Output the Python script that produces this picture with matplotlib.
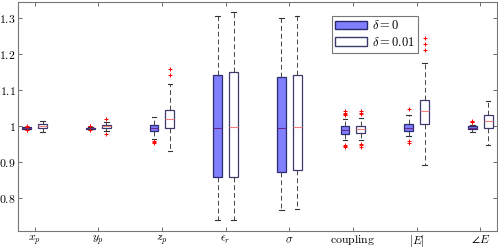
import matplotlib
matplotlib.use("Agg")
import matplotlib.pyplot as plt
import numpy as np
from matplotlib.patches import Patch

plt.rcParams["mathtext.fontset"] = "cm"
plt.rcParams["font.family"] = "serif"
plt.rcParams["font.serif"] = ["DejaVu Serif"]

labels = [r"$x_p$", r"$y_p$", r"$z_p$", r"$\epsilon_r$", r"$\sigma$",
          r"$\mathrm{coupling}$", r"$|E|$", r"$\angle E$"]

# delta = 0 : q1, median, q3, whisker low, whisker high
d0_q1 = [0.992, 0.992, 0.987, 0.860, 0.872, 0.977, 0.985, 0.991]
d0_med = [0.994, 0.993, 0.993, 0.995, 0.995, 0.990, 0.995, 0.995]
d0_q3 = [0.996, 0.995, 1.003, 1.142, 1.135, 0.999, 1.005, 0.999]
d0_lo = [0.991, 0.991, 0.965, 0.739, 0.766, 0.960, 0.972, 0.984]
d0_hi = [0.997, 0.997, 1.025, 1.303, 1.298, 1.020, 1.031, 1.003]
d0_fl = [[0.989, 0.990, 0.998, 0.999],
         [0.990, 0.999, 1.001],
         [0.953, 0.956, 0.959],
         [], [],
         [1.029, 1.032, 1.035, 1.040, 0.941, 0.944, 0.947],
         [1.046, 0.952, 0.957],
         [1.010, 1.012, 1.015]]

# delta = 0.01
d1_q1 = [0.995, 0.994, 0.994, 0.860, 0.877, 0.980, 1.005, 0.995]
d1_med = [1.000, 0.999, 1.018, 0.997, 0.997, 0.992, 1.040, 1.013]
d1_q3 = [1.004, 1.003, 1.043, 1.150, 1.140, 1.001, 1.073, 1.029]
d1_lo = [0.983, 0.986, 0.930, 0.739, 0.769, 0.960, 0.891, 0.946]
d1_hi = [1.015, 1.010, 1.115, 1.314, 1.303, 1.022, 1.173, 1.070]
d1_fl = [[], [1.020, 0.979], [1.141, 1.158], [], [],
         [1.032, 1.036, 1.042, 0.941, 0.946, 0.951],
         [1.210, 1.227, 1.244], []]

yticks = [0.8, 0.9, 1.0, 1.1, 1.2, 1.3]
yticklabels = [r"$0.8$", r"$0.9$", r"$1$", r"$1.1$", r"$1.2$", r"$1.3$"]

edge = "#2a2a6e"


def make_stats(q1, med, q3, lo, hi, fl):
    return [dict(q1=a, med=b, q3=c, whislo=d, whishi=e, fliers=f)
            for a, b, c, d, e, f in zip(q1, med, q3, lo, hi, fl)]


fig = plt.figure(figsize=(4.98, 2.49), dpi=100)
ax = fig.add_axes([0.036, 0.072, 0.962, 0.92])

pos = np.arange(1, len(labels) + 1)
common = dict(widths=0.14, patch_artist=True, showcaps=True,
              whiskerprops=dict(color="#444444", linestyle=(0, (5, 3)), linewidth=0.7),
              capprops=dict(color="#333333", linewidth=0.8),
              flierprops=dict(marker="+", markeredgecolor="red", markersize=3.5,
                              markeredgewidth=0.7, linestyle="none"))

ax.bxp(make_stats(d0_q1, d0_med, d0_q3, d0_lo, d0_hi, d0_fl), positions=pos - 0.125,
       boxprops=dict(facecolor="#7f7fff", edgecolor=edge, linewidth=0.9),
       medianprops=dict(color="#6a2a90", linewidth=0.8), **common)
ax.bxp(make_stats(d1_q1, d1_med, d1_q3, d1_lo, d1_hi, d1_fl), positions=pos + 0.125,
       boxprops=dict(facecolor="white", edgecolor="#3a3a6e", linewidth=0.9),
       medianprops=dict(color="#f08080", linewidth=0.8), **common)

ax.set_xlim(0.737, 8.263)
ax.set_ylim(0.709, 1.343)
ax.set_xticks(pos)
ax.set_xticklabels(labels, fontsize=8.5)
ax.set_yticks(yticks)
ax.set_yticklabels(yticklabels, fontsize=8.5)
ax.tick_params(direction="in", top=True, right=True, length=3, color="#555555", width=0.6)
ax.tick_params(axis="y", pad=1.5)
ax.tick_params(axis="x", pad=1.5)
for s in ax.spines.values():
    s.set_color("#777777")
    s.set_linewidth(0.8)

handles = [Patch(facecolor="#7f7fff", edgecolor=edge, label=r"$\delta = 0$"),
           Patch(facecolor="white", edgecolor="#3a3a6e", label=r"$\delta = 0.01$")]
leg = ax.legend(handles=handles, loc="upper left", bbox_to_anchor=(0.655, 0.94),
                fontsize=9, frameon=True, fancybox=False, handlelength=2.5,
                borderpad=0.3, labelspacing=0.3, handletextpad=0.4, borderaxespad=0)
leg.get_frame().set_edgecolor("#555555")
leg.get_frame().set_linewidth(0.8)

fig.savefig("out.png", dpi=100)
